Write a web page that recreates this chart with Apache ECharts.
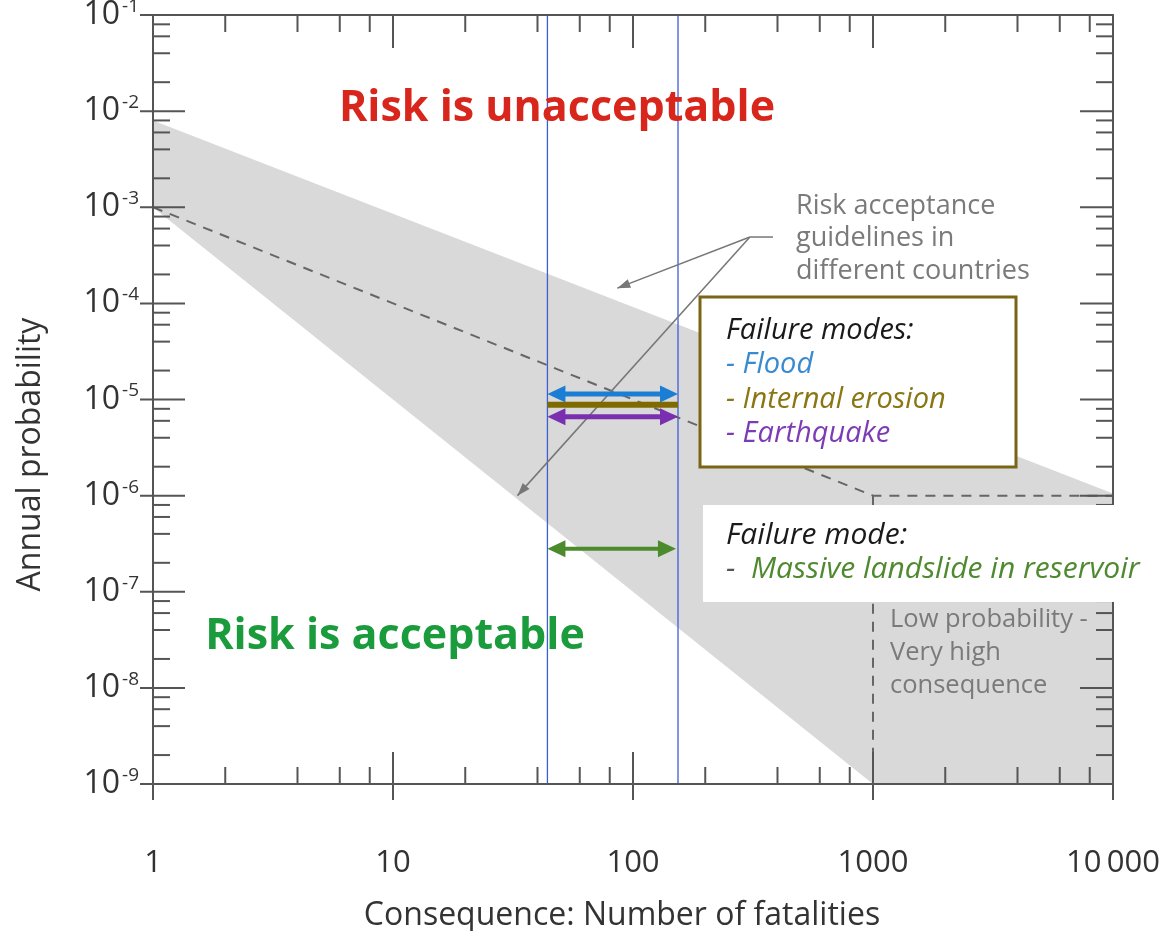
<!DOCTYPE html>
<html><head><meta charset="utf-8">
<script src="https://cdn.jsdelivr.net/npm/echarts@6/dist/echarts.min.js"></script>
<style>html,body{margin:0;padding:0;background:#fff}#c{width:1161px;height:931px}</style>
</head><body><div id="c"></div>
<script>
// ---------- data ----------
const xTickValues = [1, 10, 100, 1000, 10000];
const yTickValues = [1e-9, 1e-8, 1e-7, 1e-6, 1e-5, 1e-4, 1e-3, 1e-2, 1e-1];
const minorMantissas = [2, 4, 6, 8];
const bandPolygon = [[1, 8e-3], [10000, 1.05e-6], [10000, 1e-9], [1000, 1e-9], [1, 1e-3]];
const guidelineLine = [[1, 1e-3], [1000, 1e-6], [10000, 1e-6]];
const lowProbLine = [[1000, 1e-6], [1000, 1e-9]];
const studyBounds = [44, 154];
const modeNames = ['Flood', 'Internal erosion', 'Earthquake', 'Massive landslide in reservoir'];
const modeFrom = [44, 44, 44, 44];
const modeTo = [154, 154, 154, 151];
const modeProb = [1.14e-5, 8.8e-6, 6.6e-6, 2.8e-7];
const calloutStart = [383, 4.9e-4];
const calloutJoint = [307, 4.9e-4];
const calloutTargets = [[86, 1.44e-4], [33, 1.0e-6]];

// ---------- styles ----------
const FONT = '"Open Sans", "Noto Sans", sans-serif';
const AX = '#555';
const modeColors = ['#1a7fd4', '#7f6a00', '#7a2fb0', '#4b8b2c'];
const modeHeads = [true, false, true, true];
const modeWidths = [5, 6, 5, 4];

const chart = echarts.init(document.getElementById('c'), null, {renderer: 'canvas'});

function seg(x1, y1, x2, y2, style) {
  return {type: 'line', shape: {x1, y1, x2, y2}, style};
}
function head(tip, from, len, half, fill) {
  const dx = tip[0] - from[0], dy = tip[1] - from[1];
  const d = Math.hypot(dx, dy) || 1;
  const ux = dx / d, uy = dy / d;
  const bx = tip[0] - ux * len, by = tip[1] - uy * len;
  return {type: 'polygon', shape: {points: [tip, [bx - uy * half, by + ux * half], [bx + uy * half, by - ux * half]]}, style: {fill}};
}

const yMin = yTickValues[0], yMax = yTickValues[yTickValues.length - 1];
const xMin = xTickValues[0], xMax = xTickValues[xTickValues.length - 1];

function minorList(majors) {
  const out = [];
  for (let i = 0; i < majors.length - 1; i++) minorMantissas.forEach(m => out.push(majors[i] * m));
  return out;
}

const option = {
  animation: false,
  backgroundColor: '#fff',
  grid: {left: 153, right: 48, top: 15, bottom: 147, containLabel: false, outerBoundsMode: 'none'},
  xAxis: [{
    type: 'log', logBase: 10, min: xMin, max: xMax, position: 'bottom', z: 10,
    axisLine: {show: true, onZero: false, lineStyle: {color: AX, width: 2}},
    axisTick: {show: false}, minorTick: {show: false}, splitLine: {show: false},
    axisLabel: {margin: 64, fontSize: 31, color: '#333', fontFamily: FONT,
      formatter: v => { const n = Math.round(v); return n >= 10000 ? String(n).replace(/(\d)(?=(\d{3})+$)/g, '$1\u2009') : String(n); }},
    name: 'Consequence: Number of fatalities', nameLocation: 'middle', nameGap: 116,
    nameTextStyle: {fontSize: 32, color: '#333', fontFamily: FONT, padding: [0, 22, 0, 0]}
  }, {
    type: 'log', logBase: 10, min: xMin, max: xMax, position: 'top', z: 10,
    axisLine: {show: true, onZero: false, lineStyle: {color: AX, width: 2}},
    axisTick: {show: false}, axisLabel: {show: false}, splitLine: {show: false}
  }],
  yAxis: [{
    type: 'log', logBase: 10, min: yMin, max: yMax, position: 'left', z: 10,
    axisLine: {show: true, onZero: false, lineStyle: {color: AX, width: 2}},
    axisTick: {show: false}, minorTick: {show: false}, splitLine: {show: false},
    axisLabel: {margin: 14, fontSize: 32, color: '#333', fontFamily: FONT,
      formatter: v => '{b|10}{s|' + Math.round(Math.log10(v)) + '}',
      rich: {
        b: {fontSize: 32, lineHeight: 36, fontFamily: FONT, color: '#333'},
        s: {fontSize: 19, lineHeight: 19, fontFamily: FONT, color: '#333', verticalAlign: 'top', padding: [0, 0, 0, 2]}
      }},
    name: 'Annual probability', nameLocation: 'middle', nameGap: 106,
    nameTextStyle: {fontSize: 32, color: '#333', fontFamily: FONT, padding: [0, 110, 0, 0]}
  }, {
    type: 'log', logBase: 10, min: yMin, max: yMax, position: 'right', z: 10,
    axisLine: {show: true, onZero: false, lineStyle: {color: AX, width: 2}},
    axisTick: {show: false}, axisLabel: {show: false}, splitLine: {show: false}
  }],
  series: [
    { // acceptance band
      type: 'custom', name: 'band', z: 1, clip: false,
      data: [bandPolygon[0]],
      renderItem: (params, api) => ({
        type: 'polygon',
        shape: {points: bandPolygon.map(p => api.coord(p))},
        style: {fill: '#d9d9d9'}
      })
    },
    { // study bounds (blue verticals)
      type: 'custom', name: 'bounds', z: 3, clip: false,
      data: studyBounds.map(v => [v, yMin]),
      renderItem: (params, api) => {
        const a = api.coord([api.value(0), yMin]), b = api.coord([api.value(0), yMax]);
        return seg(a[0], a[1], b[0], b[1], {stroke: '#3d5fd6', lineWidth: 1.3});
      }
    },
    {
      type: 'line', name: 'guideline', z: 4, data: guidelineLine, symbol: 'none',
      lineStyle: {color: '#666', width: 2, type: [10, 8]}
    },
    {
      type: 'line', name: 'lowprob', z: 4, data: lowProbLine, symbol: 'none',
      lineStyle: {color: '#666', width: 2, type: [10, 8]}
    },
    { // failure-mode arrows
      type: 'custom', name: 'modes', z: 6, clip: false,
      encode: {x: [0, 2], y: 1},
      data: modeProb.map((p, i) => [modeFrom[i], p, modeTo[i]]),
      renderItem: (params, api) => {
        const i = params.dataIndex;
        const a = api.coord([api.value(0), api.value(1)]);
        const b = api.coord([api.value(2), api.value(1)]);
        const c = modeColors[i];
        const kids = [];
        const hl = modeHeads[i] ? 12 : 0;
        kids.push(seg(a[0] + hl, a[1], b[0] - hl, b[1], {stroke: c, lineWidth: modeWidths[i]}));
        if (modeHeads[i]) {
          kids.push(head(a, b, 18, 8.5, c));
          kids.push(head(b, a, 18, 8.5, c));
        }
        return {type: 'group', children: kids};
      }
    },
    { // callout for guidelines
      type: 'custom', name: 'callout', z: 5, clip: false,
      data: calloutTargets,
      renderItem: (params, api) => {
        const j = api.coord(calloutJoint);
        const t = api.coord([api.value(0), api.value(1)]);
        const kids = [seg(j[0], j[1], t[0], t[1], {stroke: '#777', lineWidth: 1.5}), head(t, j, 13, 4.5, '#777')];
        if (params.dataIndex === 0) {
          const s = api.coord(calloutStart);
          kids.push(seg(s[0], s[1], j[0], j[1], {stroke: '#777', lineWidth: 1.5}));
        }
        return {type: 'group', children: kids};
      }
    },
    { // axis ticks on all four sides
      type: 'custom', name: 'ticks', z: 20, clip: false,
      data: [[xMin, yMin]],
      renderItem: (params, api) => {
        const st = {stroke: AX, lineWidth: 2};
        const kids = [];
        const left = api.coord([xMin, yMin])[0], right = api.coord([xMax, yMin])[0];
        const bottom = api.coord([xMin, yMin])[1], top = api.coord([xMin, yMax])[1];
        xTickValues.forEach(v => {
          const x = api.coord([v, yMin])[0];
          kids.push(seg(x, bottom - 32, x, bottom + 16, st));
          kids.push(seg(x, top, x, top + 33, st));
        });
        minorList(xTickValues).forEach(v => {
          const x = api.coord([v, yMin])[0];
          kids.push(seg(x, bottom - 17, x, bottom, st));
          kids.push(seg(x, top, x, top + 17, st));
        });
        yTickValues.forEach(v => {
          const y = api.coord([xMin, v])[1];
          kids.push(seg(left - 13, y, left + 32, y, st));
          kids.push(seg(right - 33, y, right, y, st));
        });
        minorList(yTickValues).forEach(v => {
          const y = api.coord([xMin, v])[1];
          kids.push(seg(left, y, left + 17, y, st));
          kids.push(seg(right - 17, y, right, y, st));
        });
        return {type: 'group', children: kids};
      }
    }
  ],
  graphic: [
    {type: 'text', z: 100, style: {text: 'Risk is unacceptable', x: 557, y: 109, align: 'center', verticalAlign: 'middle',
      fill: '#d9261c', fontSize: 43, fontWeight: 'bold', fontFamily: FONT}},
    {type: 'text', z: 100, style: {text: 'Risk is acceptable', x: 395, y: 637, align: 'center', verticalAlign: 'middle',
      fill: '#1a9b3c', fontSize: 43, fontWeight: 'bold', fontFamily: FONT}},
    {type: 'text', z: 100, style: {text: 'Risk acceptance\nguidelines in\ndifferent countries', x: 796, y: 190, align: 'left', verticalAlign: 'top',
      fill: '#7a7a7a', fontSize: 27, lineHeight: 32.5, fontFamily: FONT}},
    {type: 'rect', z: 100, shape: {x: 700, y: 297, width: 316, height: 170}, style: {fill: '#fff', stroke: '#7a6416', lineWidth: 3}},
    {type: 'text', z: 101, style: {text: '{k|Failure modes:}\n{f|- ' + modeNames[0] + '}\n{e|- ' + modeNames[1] + '}\n{q|- ' + modeNames[2] + '}',
      x: 726, y: 313, align: 'left', verticalAlign: 'top', fontSize: 29, fontStyle: 'italic', fontFamily: FONT,
      rich: {
        k: {fill: '#1a1a1a', fontSize: 29, fontStyle: 'italic', fontFamily: FONT, lineHeight: 34.5},
        f: {fill: '#3a8ad0', fontSize: 29, fontStyle: 'italic', fontFamily: FONT, lineHeight: 34.5},
        e: {fill: '#8a7612', fontSize: 29, fontStyle: 'italic', fontFamily: FONT, lineHeight: 34.5},
        q: {fill: '#7d3cb5', fontSize: 29, fontStyle: 'italic', fontFamily: FONT, lineHeight: 34.5}
      }}},
    {type: 'rect', z: 100, shape: {x: 703, y: 505, width: 458, height: 97}, style: {fill: '#fff'}},
    {type: 'text', z: 101, style: {text: '{k|Failure mode:}\n{d|-  }{g|' + modeNames[3] + '}',
      x: 726, y: 518, align: 'left', verticalAlign: 'top', fontSize: 30, fontStyle: 'italic', fontFamily: FONT,
      rich: {
        k: {fill: '#1a1a1a', fontSize: 30, fontStyle: 'italic', fontFamily: FONT, lineHeight: 34},
        d: {fill: '#555', fontSize: 30, fontStyle: 'italic', fontFamily: FONT, lineHeight: 34},
        g: {fill: '#4f8a30', fontSize: 30, fontStyle: 'italic', fontFamily: FONT, lineHeight: 34}
      }}},
    {type: 'text', z: 100, style: {text: 'Low probability -\nVery high\nconsequence', x: 890, y: 603, align: 'left', verticalAlign: 'top',
      fill: '#7a7a7a', fontSize: 25.5, lineHeight: 33, fontFamily: FONT}}
  ]
};
chart.setOption(option);
</script>
</body></html>
